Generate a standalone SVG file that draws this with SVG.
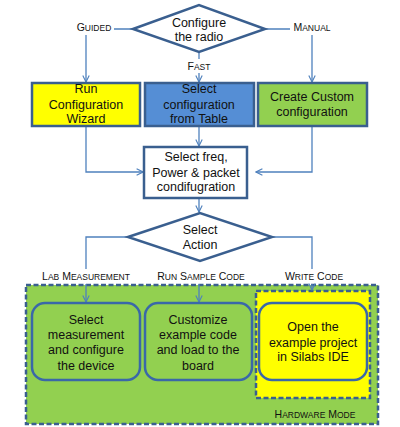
<svg xmlns="http://www.w3.org/2000/svg" width="400" height="427" viewBox="0 0 400 427">
<style>
text{font-family:"Liberation Sans",Arial,sans-serif;font-size:12.5px;fill:#111;text-anchor:middle}
.lb{font-size:10.5px}
.sc{font-size:8.5px}
.box{stroke:#3a5f8f;stroke-width:2.5}
.con{fill:none;stroke:#4f81bd;stroke-width:1.3}
.rb{stroke:#3a68a8;stroke-width:2.5}
.dash{stroke:#3a5f8f;stroke-width:2.5;stroke-dasharray:5 2.5}
</style>
<defs>
<marker id="ar" viewBox="0 0 10 10" refX="9" refY="5" markerWidth="8" markerHeight="8" orient="auto" markerUnits="userSpaceOnUse">
<polyline points="1,1 9,5 1,9" fill="none" stroke="#4f81bd" stroke-width="1.4"/>
</marker>
</defs>
<rect width="400" height="427" fill="#fff"/>
<g id="hw-mode">
<rect x="26" y="285" width="352" height="139" fill="#92d050" class="dash"/>
<rect x="256" y="291" width="114" height="107" fill="#ffff00" class="dash"/>
<text x="315" y="418" class="lb"><tspan>H</tspan><tspan class="sc">ARDWARE</tspan><tspan> M</tspan><tspan class="sc">ODE</tspan></text>
</g>
<g id="connectors">
<polyline class="con" points="133,29 86,29 86,82" marker-end="url(#ar)"/>
<polyline class="con" points="265,29 312,29 312,82" marker-end="url(#ar)"/>
<polyline class="con" points="199,52 199,82" marker-end="url(#ar)"/>
<polyline class="con" points="86,126 86,172 143,172" marker-end="url(#ar)"/>
<polyline class="con" points="199,126 199,146" marker-end="url(#ar)"/>
<polyline class="con" points="312,126 312,172 256,172" marker-end="url(#ar)"/>
<polyline class="con" points="199,198 199,212" marker-end="url(#ar)"/>
<polyline class="con" points="128,237 86,237 86,270"/>
<polyline class="con" points="272,237 312,237 312,270"/>
<polyline class="con" points="86,284 86,302" marker-end="url(#ar)"/>
<polyline class="con" points="199,284 199,302" marker-end="url(#ar)"/>
<polyline class="con" points="312,284 312,290" marker-end="url(#ar)"/>
</g>
<g id="lbl-guided"><rect x="74" y="20" width="40" height="15" fill="#fff"/><text x="94" y="31" class="lb"><tspan>G</tspan><tspan class="sc">UIDED</tspan></text></g>
<g id="lbl-manual"><rect x="290" y="20" width="44" height="15" fill="#fff"/><text x="312" y="31" class="lb"><tspan>M</tspan><tspan class="sc">ANUAL</tspan></text></g>
<g id="lbl-fast"><rect x="185" y="59" width="28" height="14" fill="#fff"/><text x="199" y="70" class="lb"><tspan>F</tspan><tspan class="sc">AST</tspan></text></g>
<g id="lbl-lab"><rect x="40" y="269" width="92" height="13" fill="#fff"/><text x="86" y="280" class="lb"><tspan>L</tspan><tspan class="sc">AB</tspan><tspan> M</tspan><tspan class="sc">EASUREMENT</tspan></text></g>
<g id="lbl-run"><text x="201" y="280" class="lb"><tspan>R</tspan><tspan class="sc">UN</tspan><tspan> S</tspan><tspan class="sc">AMPLE</tspan><tspan> C</tspan><tspan class="sc">ODE</tspan></text></g>
<g id="lbl-write"><rect x="284" y="269" width="60" height="13" fill="#fff"/><text x="314" y="280" class="lb"><tspan>W</tspan><tspan class="sc">RITE</tspan><tspan> C</tspan><tspan class="sc">ODE</tspan></text></g>
<g id="configure-radio">
<polygon points="133,29 199,5 265,29 199,52" fill="#fff" class="box"/>
<text x="199" y="27">Configure</text>
<text x="199" y="41">the radio</text>
</g>
<g id="run-wizard">
<rect x="32" y="83" width="108" height="43" fill="#ffff00" class="box"/>
<text x="86" y="93">Run</text>
<text x="86" y="109">Configuration</text>
<text x="86" y="123">Wizard</text>
</g>
<g id="select-table">
<rect x="145" y="83" width="109" height="43" fill="#558ed5" class="box"/>
<text x="199" y="93">Select</text>
<text x="199" y="109">configuration</text>
<text x="199" y="123">from Table</text>
</g>
<g id="create-custom">
<rect x="258" y="83" width="109" height="43" fill="#92d050" class="box"/>
<text x="312" y="101">Create Custom</text>
<text x="312" y="116">configuration</text>
</g>
<g id="select-freq">
<rect x="144" y="147" width="103" height="51" fill="#fff" class="box"/>
<text x="196" y="161">Select freq,</text>
<text x="196" y="177">Power &amp; packet</text>
<text x="196" y="191">condifugration</text>
</g>
<g id="select-action">
<polygon points="128,237 200,213 272,237 200,261" fill="#fff" class="box"/>
<text x="200" y="234">Select</text>
<text x="200" y="249">Action</text>
</g>
<g id="select-measurement">
<rect x="32" y="303" width="108" height="77" rx="13" fill="#92d050" class="rb"/>
<text x="86" y="324">Select</text>
<text x="86" y="339">measurement</text>
<text x="86" y="354">and configure</text>
<text x="86" y="370">the device</text>
</g>
<g id="customize-code">
<rect x="145" y="303" width="107" height="77" rx="13" fill="#92d050" class="rb"/>
<text x="198" y="324">Customize</text>
<text x="198" y="339">example code</text>
<text x="198" y="354">and load to the</text>
<text x="198" y="370">board</text>
</g>
<g id="open-project">
<rect x="259" y="303" width="108" height="77" rx="13" fill="#ffff00" class="rb"/>
<text x="313" y="331">Open the</text>
<text x="313" y="347">example project</text>
<text x="313" y="361">in Silabs IDE</text>
</g>
</svg>
